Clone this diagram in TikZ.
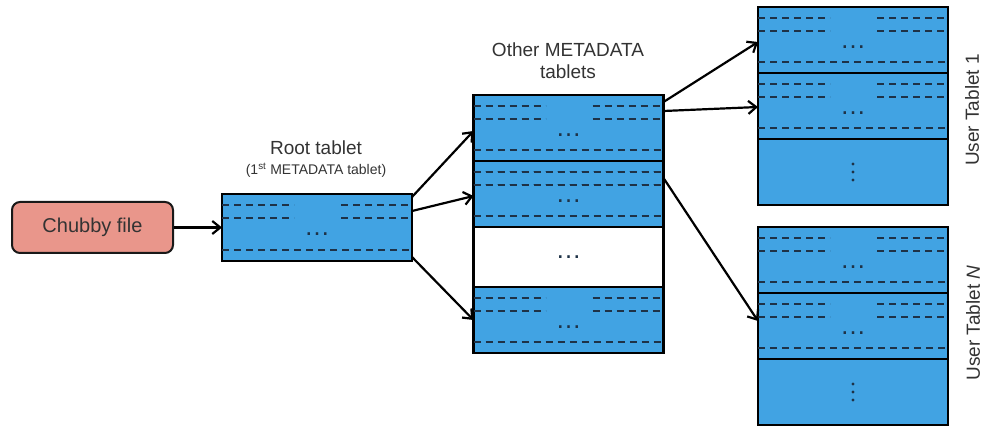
\documentclass[tikz,border=0pt]{standalone}
\usepackage{fontspec}
\setmainfont{Liberation Sans}
\usetikzlibrary{calc,chains,positioning,arrows.meta}

\definecolor{tabblue}{HTML}{41A3E3}
\definecolor{chubbyred}{HTML}{E9968B}
\definecolor{txtgray}{HTML}{333333}
\definecolor{rowgray}{HTML}{1E3247}

\tikzset{
  seg/.style={draw=black, line width=2.4pt, fill=tabblue, minimum width=190pt,
    minimum height=66pt, inner sep=0pt, outer sep=0pt},
  rowdash/.style={draw=rowgray, line width=2.3pt, dash pattern=on 7pt off 5pt},
  dotlbl/.style={inner sep=0pt, font=\fontsize{26}{26}\selectfont, text=rowgray},
  lbl/.style={text=txtgray, font=\fontsize{19}{22}\selectfont, align=center},
  ptr/.style={line width=2.2pt, -{Straight Barb[length=8pt,width=13pt]}}
}

% dashed entries of one tablet piece: split rows on top, full row at the bottom
\newcommand\tabrows[1]{%
  \foreach \dy in {11,24} {
    \draw[rowdash] ($(#1.north west)+(0,-\dy)$) -- ++(72,0);
    \draw[rowdash] ($(#1.north east)+(-71,-\dy)$) -- ++(71,0);
  }
  \draw[rowdash] ($(#1.south west)+(0,11)$) -- ($(#1.south east)+(0,11)$);
  \node[dotlbl] at ($(#1.north)+(0,-40)$) {\dots};
}
% vertical dots of the last piece
\newcommand\vdotsin[1]{%
  \foreach \dy in {-8,0,8}
    \fill[rowgray] ($(#1.center)+(0,\dy)$) circle (1.6);
}

\begin{document}
\begin{tikzpicture}[x=1pt,y=1pt]
\useasboundingbox (0,0) rectangle (989,429);

% chubby file and root tablet
\node[draw=black!90, line width=2pt, rounded corners=8pt, fill=chubbyred,
  minimum width=161pt, minimum height=51pt, font=\fontsize{20}{20}\selectfont,
  text=txtgray] (chubby) at (92.5,201.5) {Chubby file};
\node[seg, minimum height=67pt] (root) at (317,201.5) {};
\node[lbl] (roottitle) at (316,281) {Root tablet};
\node[lbl, font=\fontsize{14}{16}\selectfont] (rootsub) at (316,259)
  {(1\textsuperscript{st} METADATA tablet)};

% other METADATA tablets
\begin{scope}[shift={(568.5,301)},start chain=going below,node distance=0pt]
\def\mparts{1/66/tabblue,2/66/tabblue,3/60/white,4/66/tabblue}
\foreach \i / \h / \c in \mparts
  \node [seg, on chain, minimum height=\h pt, fill=\c] (m\i) {};
\end{scope}
\node[lbl] (metatitle) at (568,368) {Other METADATA\\tablets};

% user tablets
\begin{scope}[shift={(853,389)},start chain=going below,node distance=0pt]
\foreach \i in {1,2,3}
  \node [seg, on chain] (u\i) {};
\end{scope}
\begin{scope}[shift={(853,169)},start chain=going below,node distance=0pt]
\foreach \i in {1,2,3}
  \node [seg, on chain] (n\i) {};
\end{scope}
\node[lbl, rotate=90] (user1title) at (972,319) {User Tablet 1};
\node[lbl, rotate=90] (userNtitle) at (973,106) {User Tablet \textit{N}};

% rows inside the pieces
\foreach \s in {root,m1,m4,u1,u2,n1,n2}
  \tabrows{\s}
\foreach \dy in {11,24}
  \draw[rowdash] ($(m2.north west)+(0,-\dy)$) -- ($(m2.north east)+(0,-\dy)$);
\draw[rowdash] ($(m2.south west)+(0,11)$) -- ($(m2.south east)+(0,11)$);
\node[dotlbl] at ($(m2.north)+(0,-40)$) {\dots};
\node[dotlbl] at (m3.center) {\dots};
\vdotsin{u3}
\vdotsin{n3}

% pointers
\draw[ptr] (chubby.east) -- (root.west);
\draw[ptr] ($(root.north east)+(0,-3)$) -- ($(m1.west)+(0,-3)$);
\draw[ptr] ($(root.north east)+(0,-17)$) -- ($(m2.west)+(0,-2)$);
\draw[ptr] ($(root.south east)+(0,4)$) -- (m4.west);
\draw[ptr] ($(m1.north east)+(0,-7)$) -- ($(u1.west)+(0,-2)$);
\draw[ptr] ($(m1.north east)+(0,-16)$) -- ($(u2.west)+(0,-1)$);
\draw[ptr] ($(m2.north east)+(0,-17)$) -- ($(n2.west)+(0,5)$);

\end{tikzpicture}
\end{document}
